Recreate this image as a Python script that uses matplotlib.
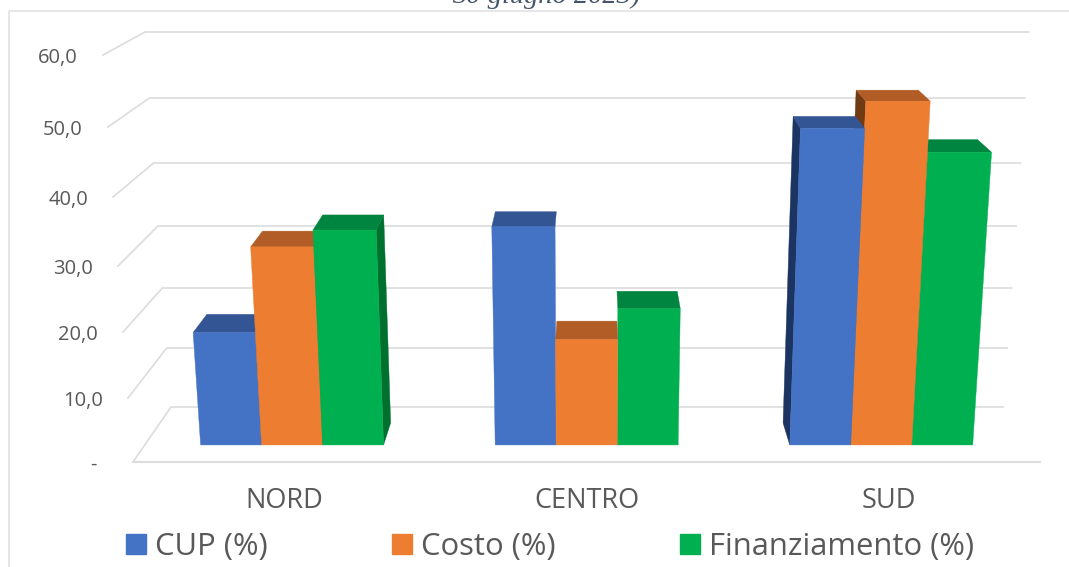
import numpy as np
import matplotlib
matplotlib.use('Agg')
import matplotlib.pyplot as plt
from matplotlib.patches import Polygon, Patch

categories = ['NORD', 'CENTRO', 'SUD']
series_names = ['CUP (%)', 'Costo (%)', 'Finanziamento (%)']
cup = [17.8, 34.0, 48.5]
costo = [31.0, 16.7, 52.4]
finanziamento = [33.5, 21.5, 45.0]
tick_values = [0, 10, 20, 30, 40, 50, 60]
tick_labels = ['-', '10,0', '20,0', '30,0', '40,0', '50,0', '60,0']

colors = ['#4472C4', '#ED7D31', '#00B050']
top_colors = ['#335593', '#B15D25', '#008540']
side_colors = ['#1C3461', '#6F3B12', '#00702F']
grid_color = '#DCDCDC'
text_color = '#595959'

plt.rcParams['font.family'] = ['Open Sans', 'DejaVu Sans']

# box geometry in pixels, the chart is a 3D column chart with perspective
front_y = [462, 398, 332, 266, 197, 127, 55]
wall_y = [407, 348, 288, 226, 163, 98, 32]


def project(u, v, d):
    # u across the floor 0-1, v value, d depth 0 (front) to 1 (wall)
    left = (133 - 0.5 * v) * (1 - d) + (171 - 0.433 * v) * d
    right = (1040 + 0.5 * v) * (1 - d) + (1003 + 0.433 * v) * d
    y = np.interp(v, tick_values, front_y) * (1 - d) + np.interp(v, tick_values, wall_y) * d
    return left + u * (right - left), y


fig = plt.figure(figsize=(10.69, 5.67), dpi=100)
ax = fig.add_axes([0, 0, 1, 1])
ax.set_xlim(0, 1069)
ax.set_ylim(567, 0)
ax.axis('off')

# outer frame of the pasted chart
ax.plot([8.5, 8.5, 1069], [567, 10.5, 10.5], color='#E2E2E2', lw=1.2)

# title cut off by the crop, same as in the source image
ax.text(546, 3, '30 giugno 2023)', family='Liberation Serif', style='italic', fontsize=20.5,
        color='#44546A', ha='center', va='baseline')

# gridlines and value labels
for v, label in zip(tick_values, tick_labels):
    pts = [project(0, v, 0), project(0, v, 1), project(1, v, 1)]
    ax.plot([p[0] for p in pts], [p[1] for p in pts], color=grid_color, lw=1.2, zorder=1)
    x0, y0 = pts[0]
    ax.text(x0 - 25 if v else x0 - 36, y0 + 3, label, ha='right', va='center', fontsize=14.5, color=text_color)
x1, y1 = project(0, 0, 0)
x2, y2 = project(1, 0, 0)
ax.plot([x1, x2], [y1, y2], color=grid_color, lw=1.5, zorder=1)

# bars
d0, d1 = 0.31, 0.71
group_width = 0.207
bars = []
for i in range(len(categories)):
    start = (i + 0.5) / 3 - group_width / 2
    for j, vals in enumerate([cup, costo, finanziamento]):
        ua = start + j * group_width / 3
        bars.append((ua, ua + group_width / 3, vals[i], j))

# draw the outer bars first so nearer faces end up on top
bars.sort(key=lambda b: -abs((b[0] + b[1]) / 2 - 0.5))
for n, (ua, ub, v, j) in enumerate(bars):
    z = 2 + n
    uc = (ua + ub) / 2
    side = None
    if uc < 0.4:
        side = [project(ub, 0, d0), project(ub, v, d0), project(ub, v, d1), project(ub, 0, d1)]
    elif uc > 0.6:
        side = [project(ua, 0, d0), project(ua, v, d0), project(ua, v, d1), project(ua, 0, d1)]
    if side:
        ax.add_patch(Polygon(side, fc=side_colors[j], ec=side_colors[j], lw=0.3, zorder=z))
    top = [project(ua, v, d0), project(ub, v, d0), project(ub, v, d1), project(ua, v, d1)]
    ax.add_patch(Polygon(top, fc=top_colors[j], ec=top_colors[j], lw=0.3, zorder=z))
    front = [project(ua, 0, d0), project(ub, 0, d0), project(ub, v, d0), project(ua, v, d0)]
    ax.add_patch(Polygon(front, fc=colors[j], ec=colors[j], lw=0.3, zorder=z))

# category labels
for i, name in enumerate(categories):
    xc, _ = project((i + 0.5) / 3, 0, 0)
    ax.text(xc, 501, name, ha='center', va='center', fontsize=19.5, color=text_color)

handles = [Patch(fc=c, ec=c, label=s) for c, s in zip(colors, series_names)]
ax.legend(handles=handles, ncol=3, loc='center', bbox_to_anchor=(550, 547), bbox_transform=ax.transData,
          frameon=False, fontsize=22.3, labelcolor=text_color, handlelength=0.65, handleheight=0.65,
          handletextpad=0.3, columnspacing=4.0, borderpad=0, borderaxespad=0)

fig.savefig('out.png', dpi=100)
